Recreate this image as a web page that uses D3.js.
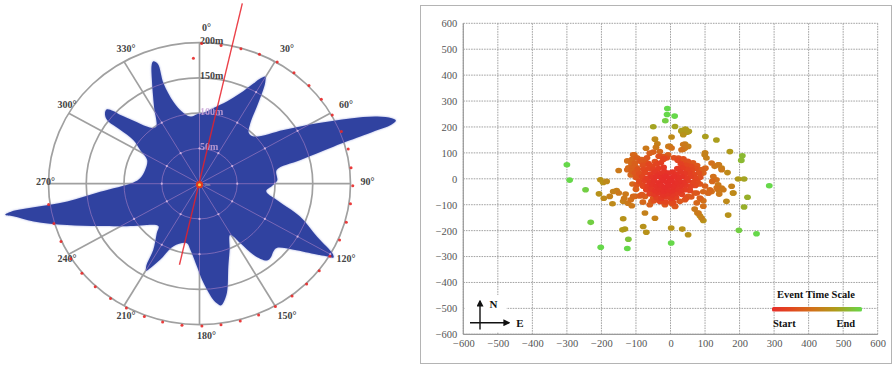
<!DOCTYPE html>
<html>
<head>
<meta charset="utf-8">
<script src="https://cdn.jsdelivr.net/npm/d3@7"></script>
<style>
  html, body { margin: 0; padding: 0; background: #fff; }
  svg { display: block; }
  text { font-family: "Liberation Serif", "DejaVu Serif", serif; }
</style>
</head>
<body>
<svg id="chart" width="893" height="365"></svg>
<script>
// ---------------- Polar rose: spread radius (m) against bearing (deg) ----------------
const roseAngles = [0, 2.2, 9.8, 17.3, 22.8, 26.7, 28.5, 29.8, 31.2, 32.5, 34.8, 38.1, 42.3, 47,
  55.6, 61.2, 65.1, 68, 70, 71, 71.8, 72.1, 72.5, 73.5, 75.9, 79.3, 87.5, 92, 96.8,
  102.7, 109.3, 115.8, 119.5, 120.5, 121.5, 122.9, 126.9, 131.7, 134.3, 138, 140.6, 144.6, 147.3, 150.7,
  157, 161.9, 166.8, 169.5, 170.8, 172, 173.6, 177.8, 181.7, 187.5, 191.2,
  201.2, 205.8, 208.5, 209.8, 211.2, 213.1, 218.9, 222, 230, 235.5, 245.5, 251.5, 256.3, 259.4, 260.3,
  261, 261.3, 261.8, 265, 270.9, 275.5, 285, 295.8, 301.3, 305.2, 306, 306.4, 308.5, 310.5, 312,
  312.9, 315.7, 319.3, 321.6, 324.6, 331.2, 336.8, 339.4, 340.5, 342, 341.5, 343.5, 347.1, 352.6];
const roseRadii = [100, 100, 109, 122, 139, 159, 170, 175, 168, 156, 133, 109, 97, 98,
  135, 178, 220, 254, 271, 275, 266, 250, 228, 185, 138, 104, 103, 96, 89,
  105, 141, 173, 203, 206, 197, 185, 156, 137, 137, 141, 141, 124, 100, 83,
  102, 123, 159, 172, 175, 172, 166, 141, 117, 94, 86,
  95, 120, 136, 142, 136, 112, 90, 81, 91, 106, 145, 185, 226, 251, 261,
  252, 222, 177, 132, 88, 79, 74.5, 77, 92, 107, 130, 152, 160, 162, 154,
  143, 125, 107, 101, 99, 125, 160, 180, 184, 179, 150, 121, 105, 96];

const ringValues = [50, 100, 150, 200];
const ringLabels = ["50m", "100m", "150m", "200m"];
const spokeAngles = [0, 30, 60, 90, 120, 150, 180, 210, 240, 270, 300, 330];
const spokeLabels = ["0°", "30°", "60°", "90°", "120°", "150°", "180°", "210°", "240°", "270°", "300°", "330°"];

// red trace samples around the outer ring
const traceAngles = [0.8, 8.3, 16, 23.4, 30.8, 38.5, 46.2, 53.4, 61, 68.5, 76, 83.6, 90.8, 98.1,
  105.7, 113.3, 120.8, 127.9, 135.1, 142.4, 150, 157.2, 164.5, 171.9, 179.1, 186.6, 194, 201.2,
  208.8, 215.9, 223.4, 230.8, 238, 245.9, 253.7, 261.6, 357.4];
const traceRadii = [199, 198, 199, 200, 201, 201, 201, 201, 201, 202, 203, 202, 203, 202,
  202, 202, 201, 201, 201, 201, 201, 202, 202, 202, 202, 202, 202, 202,
  201, 201, 201, 201, 201, 201, 201, 202, 178];

// principal axis line (bearing, length in m at each end)
const axisAngles = [12.5, 193];
const axisRadii = [262, 118];

// ---------------- Event map: easting, northing (m), relative event time ----------------
const events = [
  [-9, 271, 1], [-10, 248, 1], [12, 242, 1], [-15, 224, .95], [-50, 201, .75], [13, 202, .75],
  [32, 186, .75], [43, 192, .72], [46, 180, .72], [53, 183, .72], [32, 183, .7], [44, 189, .7], [50, 181, .7], [37, 170, .65],
  [-45, 153, .6], [3, 161, .6], [101, 163, .72], [133, 150, .72],
  [-71, 118, .5], [-38, 135, .55], [-42, 122, .5], [-2, 125, .55], [42, 134, .55], [51, 125, .55], [37, 114, .5],
  [-6, 125, .5], [3, 119, .45], [37, 132, .5], [42, 119, .5], [32, 112, .45], [-50, 103, .35],
  [-60, 99, .35], [-31, 105, .4], [-21, 86, .3], [-7, 93, .35],
  [-105, 93, .45], [-96, 80, .4], [-84, 73, .35], [-74, 67, .3],
  [-108, 93, .4], [-98, 80, .35], [-83, 74, .35], [-112, 74, .4], [-103, 61, .35],
  [99, 93, .55], [104, 80, .55], [100, 100, .55], [172, 105, .7], [208, 89, .85], [205, 71, .85],
  [-125, 69, .45], [-113, 58, .4], [-103, 48, .35], [-150, 32, .5], [-125, 35, .4], [-111, 41, .35], [-103, 22, .3],
  [-122, 42, .4], [-112, 29, .35], [-98, 42, .35],
  [-65, 60, .25], [-53, 48, .2], [-45, 67, .25],
  [85, 35, .35], [101, 41, .4], [95, 22, .35], [128, 48, .5], [140, 54, .55], [148, 41, .55],
  [119, 61, .45], [138, 54, .5], [148, 35, .5],
  [124, 9, .45], [133, -4, .45], [121, -10, .4], [138, -23, .5], [148, -36, .5],
  [165, 24, .6], [196, -1, .7], [213, -1, .75], [286, -27, 1],
  [-203, -4, .65], [-195, -14, .65], [-185, -10, .6], [-246, -42, .95], [-300, 54, 1], [-292, -5, 1],
  [-207, -58, .65], [-193, -75, .6], [-166, -49, .55], [-156, -45, .55], [-150, -55, .5],
  [-176, -68, .55], [-168, -96, .6], [-130, -59, .5], [-137, -87, .55], [-123, -94, .5], [-134, -75, .5],
  [-103, -68, .4], [-89, -66, .35], [-74, -68, .35], [-55, -87, .35], [-50, -75, .3],
  [-115, -81, .45], [-108, -68, .4], [-112, -104, .5],
  [-74, -132, .55], [-79, -184, .65], [-70, -206, .65], [-45, -152, .55],
  [-137, -154, .65], [-139, -197, .7], [-132, -194, .7], [-122, -233, .9], [-125, -269, 1],
  [-202, -264, 1], [-231, -168, .95],
  [2, -190, .65], [34, -194, .65], [51, -216, .65], [2, -248, 1],
  [70, -117, .5], [78, -132, .55], [85, -143, .6], [95, -161, .65], [81, -132, .5], [90, -151, .55],
  [88, -78, .45], [95, -85, .45], [114, -42, .4], [109, -55, .45], [141, -59, .5], [153, -42, .5],
  [110, -55, .4], [119, -49, .45], [134, -35, .45], [138, -42, .5], [182, -55, .6], [177, -29, .55],
  [162, -87, .6], [181, -55, .6], [167, -140, .65], [213, -109, .8], [223, -71, .8],
  [198, -199, .95], [249, -212, 1],
  [42, -81, .3], [51, -68, .3], [27, -87, .3], [13, -107, .35], [5, -96, .3],
  [-98, -23, .3], [-79, -29, .25], [-83, -61, .3], [3, -93, .25], [13, -106, .3], [-16, -100, .3],
  [76, -55, .3], [85, -74, .35], [76, -93, .4], [95, -106, .45],
  [-25, 86, .3], [-21, 74, .25], [-11, 80, .25], [23, 80, .25], [37, 74, .25], [47, 61, .25],
  [-87, 68, .3], [-68, 81, .3], [-34, 87, .25], [-19, 78, .2], [10, 81, .25], [21, 72, .2],
  [37, 77, .25], [50, 68, .25], [65, 62, .3], [77, 51, .3], [92, 36, .35],
  [-80, 52, .25], [-62, 55, .2], [-40, 57, .18], [-28, 62, .15], [30, 58, .15], [45, 52, .2], [60, 48, .22],
  [-95, 38, .28], [-78, 36, .22], [-64, 40, .2], [-50, 36, .15], [-35, 40, .12], [-20, 44, .1],
  [20, 40, .1], [34, 42, .12], [48, 36, .15], [62, 33, .2], [74, 40, .25],
  [-90, 20, .25], [-74, 24, .2], [-58, 18, .12], [-44, 25, .08], [-30, 20, .05], [-18, 28, .05], [-6, 22, .04],
  [6, 26, .05], [17, 18, .05], [29, 26, .08], [41, 20, .1], [54, 23, .15], [68, 16, .2], [82, 22, .25],
  [-98, 5, .28], [-82, 8, .2], [-68, 2, .12], [-54, 6, .06], [-40, 10, .03], [-27, 4, .02], [-15, 10, 0],
  [-3, 3, 0], [9, 9, .02], [20, 2, .03], [32, 8, .05], [45, 4, .1], [58, 9, .15], [72, 2, .2], [86, 6, .25],
  [-90, -10, .22], [-75, -7, .15], [-60, -14, .08], [-47, -8, .04], [-34, -15, .02], [-22, -6, 0], [-10, -13, 0],
  [2, -8, 0], [13, -15, .02], [25, -9, .03], [37, -14, .06], [50, -8, .12], [64, -14, .18], [78, -10, .22],
  [-80, -25, .2], [-66, -28, .12], [-52, -22, .05], [-40, -30, .03], [-28, -24, .02], [-17, -32, 0], [-5, -25, 0],
  [7, -30, .02], [18, -22, .03], [30, -28, .05], [44, -25, .1], [58, -30, .15], [72, -26, .2],
  [-70, -42, .15], [-56, -40, .08], [-44, -46, .05], [-31, -40, .03], [-20, -48, .02], [-8, -42, .02],
  [4, -47, .03], [15, -40, .05], [28, -45, .08], [42, -42, .12], [56, -45, .18],
  [-60, -58, .15], [-46, -60, .1], [-34, -55, .06], [-21, -62, .05], [-8, -57, .05], [5, -62, .08],
  [18, -56, .1], [33, -60, .15],
  [-40, -72, .15], [-26, -75, .1], [-12, -70, .1], [1, -76, .12], [16, -72, .15],
  [-30, -88, .2], [-14, -90, .2], [8, -92, .22], [-48, -85, .25],
  [85, -20, .3], [100, -28, .35], [95, -50, .4], [70, -55, .3], [60, -70, .3], [45, -75, .25],
  [-60, -100, .35], [-80, -90, .4], [-100, -40, .35], [-110, -20, .4], [-100, 5, .35], [-115, 15, .4]
];

const xTicks = [-600, -500, -400, -300, -200, -100, 0, 100, 200, 300, 400, 500, 600];
const yTicks = [-600, -500, -400, -300, -200, -100, 0, 100, 200, 300, 400, 500, 600];
const timeStops = [0, 0.2, 0.45, 0.7, 1];
const timeColors = ["#e62e2a", "#e2461f", "#d2711a", "#b09a1a", "#66d84a"];

// =====================================================================
const svg = d3.select("#chart");

// ---------------- polar rose ----------------
const P = { cx: 199.5, cy: 183.7, rx: 151, ry: 141 };
const rScale = d3.scaleLinear().domain([0, 200]).range([0, 1]);
const toRad = d => d * Math.PI / 180;
function polarXY(angle, r) {
  const k = rScale(r);
  return [P.cx + P.rx * k * Math.sin(toRad(angle)), P.cy - P.ry * k * Math.cos(toRad(angle))];
}

const rose = svg.append("g");
const gridGray = "#a0a0a0";

// grid rings and spokes
rose.selectAll("ellipse.ring").data(ringValues).join("ellipse")
  .attr("cx", P.cx).attr("cy", P.cy)
  .attr("rx", v => P.rx * rScale(v)).attr("ry", v => P.ry * rScale(v))
  .attr("fill", "none").attr("stroke", gridGray).attr("stroke-width", 1.7);
rose.selectAll("line.spoke").data(spokeAngles).join("line")
  .attr("x1", P.cx).attr("y1", P.cy)
  .attr("x2", a => polarXY(a, 200)[0]).attr("y2", a => polarXY(a, 200)[1])
  .attr("stroke", gridGray).attr("stroke-width", 1.7);

// ring labels along the north spoke
rose.selectAll("text.rlab").data(ringValues.filter(v => v > 100)).join("text")
  .attr("x", P.cx + 0.5)
  .attr("y", v => polarXY(0, v)[1] + 1.5)
  .attr("font-size", 10).attr("font-weight", "bold").attr("fill", "#444")
  .text(v => ringLabels[ringValues.indexOf(v)]);

// bearing labels
rose.selectAll("text.alab").data(spokeAngles).join("text")
  .attr("x", a => polarXY(a, 200)[0] + 7 + 10 * Math.sin(toRad(a)))
  .attr("y", a => polarXY(a, 200)[1] - 2 - 13 * Math.cos(toRad(a)))
  .attr("text-anchor", "middle").attr("dominant-baseline", "central")
  .attr("font-size", 10).attr("font-weight", "bold").attr("fill", "#444")
  .text((a, i) => spokeLabels[i]);

// rose outline
const rosePts = roseAngles.map((a, i) => polarXY(a, roseRadii[i]));
const rosePath = d3.line().curve(d3.curveCatmullRomClosed.alpha(0.5))(rosePts);

const defs = svg.append("defs");
defs.append("filter").attr("id", "soft").attr("x", "-10%").attr("y", "-10%").attr("width", "120%").attr("height", "120%")
  .append("feGaussianBlur").attr("stdDeviation", 1.3);
defs.append("clipPath").attr("id", "roseClip").append("path").attr("d", rosePath);

rose.append("path").attr("d", rosePath)
  .attr("fill", "#8c96db").attr("opacity", 0.8).attr("filter", "url(#soft)");
rose.append("path").attr("d", rosePath).attr("fill", "#3042a0");

// faint grid seen through the rose
const inner = rose.append("g").attr("clip-path", "url(#roseClip)");
inner.selectAll("ellipse").data(ringValues).join("ellipse")
  .attr("cx", P.cx).attr("cy", P.cy)
  .attr("rx", v => P.rx * rScale(v)).attr("ry", v => P.ry * rScale(v))
  .attr("fill", "none").attr("stroke", "#c48fcf").attr("stroke-width", 0.7).attr("opacity", 0.7);
inner.selectAll("line").data(spokeAngles).join("line")
  .attr("x1", P.cx).attr("y1", P.cy)
  .attr("x2", a => polarXY(a, 200)[0]).attr("y2", a => polarXY(a, 200)[1])
  .attr("stroke", "#c48fcf").attr("stroke-width", 0.7).attr("opacity", 0.7);
const nodes = [];
spokeAngles.forEach(a => ringValues.forEach(v => nodes.push(polarXY(a, v))));
inner.selectAll("circle").data(nodes).join("circle")
  .attr("cx", d => d[0]).attr("cy", d => d[1]).attr("r", 1.1).attr("fill", "#cdb0e0");

// inner ring labels seen over the rose
rose.selectAll("text.rlab2").data(ringValues.filter(v => v <= 100)).join("text")
  .attr("x", P.cx + 0.5)
  .attr("y", v => polarXY(0, v)[1] + 1.5)
  .attr("font-size", 10).attr("font-weight", "bold").attr("fill", "#c9a4d8").attr("opacity", 0.85)
  .text(v => ringLabels[ringValues.indexOf(v)]);

// principal axis
const axEnds = axisAngles.map((a, i) => polarXY(a, axisRadii[i]));
rose.append("line")
  .attr("x1", axEnds[0][0]).attr("y1", axEnds[0][1])
  .attr("x2", axEnds[1][0]).attr("y2", axEnds[1][1])
  .attr("stroke", "#e8202a").attr("stroke-width", 1.4).attr("opacity", 0.85);

// trace samples
rose.selectAll("circle.trace").data(traceAngles).join("circle")
  .attr("cx", (a, i) => polarXY(a, traceRadii[i])[0])
  .attr("cy", (a, i) => polarXY(a, traceRadii[i])[1])
  .attr("r", 1.5).attr("fill", "#e82828").attr("opacity", 0.9);

// origin marker
rose.append("circle").attr("cx", P.cx).attr("cy", P.cy + 1).attr("r", 3.6).attr("fill", "#e2381c");
rose.append("circle").attr("cx", P.cx).attr("cy", P.cy + 1).attr("r", 1.5).attr("fill", "#f3d24a");
rose.append("text").attr("x", P.cx + 5).attr("y", P.cy + 2.5).attr("font-size", 4.5).attr("fill", "#bbb").text("0m");

// ---------------- event map ----------------
const panel = svg.append("g");
panel.append("rect").attr("x", 420.5).attr("y", 5.5).attr("width", 471).attr("height", 358)
  .attr("fill", "#fff").attr("stroke", "#b4b4b4").attr("stroke-width", 1);

const plot = { left: 463.3, right: 877.7, top: 23.3, bottom: 334.3 };
const x = d3.scaleLinear().domain([-600, 600]).range([plot.left, plot.right]);
const y = d3.scaleLinear().domain([-600, 600]).range([plot.bottom, plot.top]);
const color = d3.scaleLinear().domain(timeStops).range(timeColors).interpolate(d3.interpolateRgb);

// dotted grid
const grid = panel.append("g").attr("stroke", "#a2a2a2").attr("stroke-width", 1).attr("stroke-dasharray", "1.6,1");
grid.selectAll("line.v").data(xTicks).join("line")
  .attr("x1", d => x(d)).attr("x2", d => x(d)).attr("y1", plot.top).attr("y2", plot.bottom);
grid.selectAll("line.h").data(yTicks).join("line")
  .attr("y1", d => y(d)).attr("y2", d => y(d)).attr("x1", plot.left).attr("x2", plot.right);

// solid left and bottom frame
panel.append("line").attr("x1", plot.left).attr("x2", plot.left).attr("y1", plot.top).attr("y2", plot.bottom)
  .attr("stroke", "#9a9a9a").attr("stroke-width", 1.2);
panel.append("line").attr("x1", plot.left).attr("x2", plot.right).attr("y1", plot.bottom).attr("y2", plot.bottom)
  .attr("stroke", "#9a9a9a").attr("stroke-width", 1.2);

// axes
const yAxis = panel.append("g").attr("transform", `translate(${plot.left},0)`)
  .call(d3.axisLeft(y).tickValues(yTicks).tickSize(0).tickPadding(6).tickFormat(d3.format("d")));
const xAxis = panel.append("g").attr("transform", `translate(0,${plot.bottom})`)
  .call(d3.axisBottom(x).tickValues(xTicks).tickSize(0).tickPadding(5).tickFormat(d3.format("d")));
[xAxis, yAxis].forEach(g => {
  g.select(".domain").remove();
  g.selectAll("text").attr("font-family", "'Liberation Serif', serif").attr("font-size", 10.5).attr("fill", "#555");
});

// events, latest drawn first so the earliest sit on top
const ordered = events.slice().sort((a, b) => b[2] - a[2]);
panel.append("g").selectAll("ellipse").data(ordered).join("ellipse")
  .attr("cx", d => x(d[0])).attr("cy", d => y(d[1]))
  .attr("rx", 3.4).attr("ry", 2.8)
  .attr("fill", d => color(d[2]));

// north / east arrows
const arrow = panel.append("g");
arrow.append("rect").attr("x", 464.5).attr("y", 295).attr("width", 42).attr("height", 37).attr("fill", "#fff");
defs.append("marker").attr("id", "head").attr("viewBox", "0 0 10 10").attr("refX", 8).attr("refY", 5)
  .attr("markerWidth", 5).attr("markerHeight", 5).attr("orient", "auto")
  .append("path").attr("d", "M0,0 L10,5 L0,10 z").attr("fill", "#111");
arrow.append("line").attr("x1", 480).attr("y1", 329.5).attr("x2", 480).attr("y2", 301)
  .attr("stroke", "#111").attr("stroke-width", 1.4).attr("marker-end", "url(#head)");
arrow.append("line").attr("x1", 470).attr("y1", 322.7).attr("x2", 509).attr("y2", 322.7)
  .attr("stroke", "#111").attr("stroke-width", 1.4).attr("marker-end", "url(#head)");
arrow.append("text").attr("x", 493.5).attr("y", 308).attr("text-anchor", "middle")
  .attr("font-size", 11).attr("font-weight", "bold").attr("fill", "#111").text("N");
arrow.append("text").attr("x", 520).attr("y", 327).attr("text-anchor", "middle")
  .attr("font-size", 11).attr("font-weight", "bold").attr("fill", "#111").text("E");

// time colour legend
const grad = defs.append("linearGradient").attr("id", "timeGrad");
grad.selectAll("stop").data(timeStops).join("stop")
  .attr("offset", d => d * 100 + "%").attr("stop-color", (d, i) => timeColors[i]);
const legend = panel.append("g");
legend.append("text").attr("x", 816).attr("y", 298).attr("text-anchor", "middle")
  .attr("font-size", 10.5).attr("font-weight", "bold").attr("fill", "#111").text("Event Time Scale");
legend.append("rect").attr("x", 772).attr("y", 307).attr("width", 90).attr("height", 4.6)
  .attr("rx", 1.5).attr("fill", "url(#timeGrad)");
legend.append("text").attr("x", 773).attr("y", 327).attr("font-size", 10.5).attr("font-weight", "bold")
  .attr("fill", "#111").text("Start");
legend.append("text").attr("x", 836.5).attr("y", 327).attr("font-size", 10.5).attr("font-weight", "bold")
  .attr("fill", "#111").text("End");
</script>
</body>
</html>
